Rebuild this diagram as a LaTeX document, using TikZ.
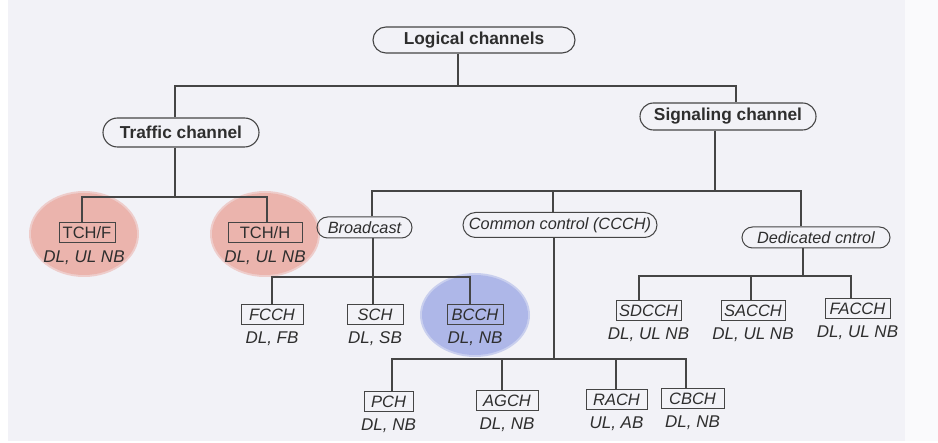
\documentclass[tikz,border=0pt]{standalone}
\usepackage{fontspec}
\setmainfont{Liberation Sans}
\usetikzlibrary{shapes.misc}
\definecolor{paper}{HTML}{F2F2F7}
\definecolor{ink}{HTML}{2E2E2E}
\definecolor{wire}{HTML}{454545}
\definecolor{rosehl}{HTML}{EBB4AD}
\definecolor{bluehl}{HTML}{AEB7E8}
\tikzset{
  group/.style={rounded rectangle, draw=wire, line width=1.1pt, inner sep=0pt,
    text=ink, font=\fontsize{17.3}{20}\selectfont\bfseries},
  subgroup/.style={rounded rectangle, draw=wire, line width=1pt, inner sep=0pt,
    minimum height=21pt, text=ink, font=\fontsize{16.3}{19}\selectfont\itshape},
  chan/.style={rectangle, draw=wire, line width=1pt, inner sep=0pt,
    minimum height=20pt, text=ink, font=\fontsize{16.5}{19}\selectfont\itshape},
  chanup/.style={chan, font=\fontsize{16.5}{19}\selectfont},
  dir/.style={inner sep=0pt, text=ink, font=\fontsize{17}{19}\selectfont\itshape},
  link/.style={draw=wire, line width=1.1pt}
}
\begin{document}
\begin{tikzpicture}[x=1pt, y=-1pt]
\useasboundingbox (0,0) rectangle (938,443);
% page background
\fill[paper] (0,0) rectangle (938,443);
\fill[white] (0,0) rectangle (8,443);
\fill[white!60!paper] (905,0) rectangle (938,443);
\fill[white] (0,441) rectangle (938,443);

% highlight discs
\fill[rosehl!60!paper] (84,234) ellipse [x radius=55, y radius=43];
\fill[rosehl] (84,234) ellipse [x radius=53, y radius=41];
\fill[rosehl!60!paper] (265,234) ellipse [x radius=55, y radius=43];
\fill[rosehl] (265,234) ellipse [x radius=53, y radius=41];
\fill[bluehl!60!paper] (475,315) ellipse [x radius=55, y radius=42];
\fill[bluehl] (475,315) ellipse [x radius=53, y radius=40];

% top levels
\node[group, minimum width=202pt, minimum height=26pt] (logical) at (474,40) {Logical channels};
\node[group, minimum width=156pt, minimum height=29pt] (traffic) at (181,132.5) {Traffic channel};
\node[group, minimum width=176pt, minimum height=27pt] (signaling) at (728,116.5) {Signaling channel};

\node[subgroup, minimum width=95pt] (broadcast) at (364.5,227.5) {Broadcast};
\node[subgroup, minimum width=194pt, minimum height=25pt] (common) at (560,225) {Common control (CCCH)};
\node[subgroup, minimum width=148pt] (dedicated) at (816,237.5) {Dedicated cntrol};

% traffic channels
\node[chanup, minimum width=56pt] (tchf) at (87,233) {TCH/F};
\node[chanup, minimum width=74pt] (tchh) at (265,233) {TCH/H};
\node[dir] (tchfd) at (84,258) {DL, UL NB};
\node[dir] (tchhd) at (265,258) {DL, UL NB};

% broadcast channels
\node[chan, minimum width=62pt] (fcch) at (272,315) {FCCH};
\node[chan, minimum width=56pt] (sch) at (375,315) {SCH};
\node[chan, minimum width=56pt] (bcch) at (475,315) {BCCH};
\node[dir] (fcchd) at (272,339) {DL, FB};
\node[dir] (schd) at (375,339) {DL, SB};
\node[dir] (bcchd) at (475,339) {DL, NB};

% common control channels
\node[chan, minimum width=49pt] (pch) at (388.5,402) {PCH};
\node[chan, minimum width=62pt] (agch) at (507,401) {AGCH};
\node[chan, minimum width=61pt] (rach) at (616.5,400) {RACH};
\node[chan, minimum width=63pt] (cbch) at (692.5,399) {CBCH};
\node[dir] (pchd) at (388.5,426) {DL, NB};
\node[dir] (agchd) at (507,425) {DL, NB};
\node[dir] (rachd) at (616.5,424) {UL, AB};
\node[dir] (cbchd) at (692.5,423) {DL, NB};

% dedicated control channels
\node[chan, minimum width=65pt] (sdcch) at (648.5,311) {SDCCH};
\node[chan, minimum width=64pt] (sacch) at (753,311) {SACCH};
\node[chan, minimum width=65pt] (facch) at (857.5,309) {FACCH};
\node[dir] (sdcchd) at (648.5,335) {DL, UL NB};
\node[dir] (sacchd) at (753,335) {DL, UL NB};
\node[dir] (facchd) at (857.5,333) {DL, UL NB};

% tree connectors
\coordinate (j0) at (458,86);
\draw[link] ([xshift=-16]logical.south) -- (j0);
\draw[link] ([xshift=-6]traffic.north) |- (j0) -| ([xshift=8]signaling.north);

\coordinate (j1) at (175,197);
\draw[link] ([xshift=-6]traffic.south) -- (j1);
\draw[link] ([xshift=-5]tchf.north) |- (j1) -| ([xshift=2]tchh.north);

\coordinate (j2) at (715,191);
\draw[link] ([xshift=-13]signaling.south) -- (j2);
\draw[link] ([xshift=7.5]broadcast.north) |- (j2) -| ([xshift=-15]dedicated.north);
\draw[link] ([xshift=-7]common.north) -- ([xshift=-7]common.north |- j2);

\coordinate (j3) at (373,277);
\draw[link] ([xshift=8.5]broadcast.south) -- ([xshift=-2]sch.north);
\draw[link] (fcch.north) |- (j3) -| ([xshift=-5]bcch.north);

\coordinate (j4) at (554,359);
\draw[link] ([xshift=-6]common.south) -- (j4);
\draw[link] ([xshift=3.5]pch.north) |- (j4) -| ([xshift=-6.5]cbch.north);
\draw[link] ([xshift=-5]agch.north) -- ([xshift=-5]agch.north |- j4);
\draw[link] ([xshift=-0.5]rach.north) -- ([xshift=-0.5]rach.north |- j4);

\coordinate (j5) at (803,276);
\draw[link] ([xshift=-13]dedicated.south) -- (j5);
\draw[link] ([xshift=-9.5]sdcch.north) |- (j5) -| ([xshift=-6.5]facch.north);
\draw[link] ([xshift=-2]sacch.north) -- ([xshift=-2]sacch.north |- j5);
\end{tikzpicture}
\end{document}
